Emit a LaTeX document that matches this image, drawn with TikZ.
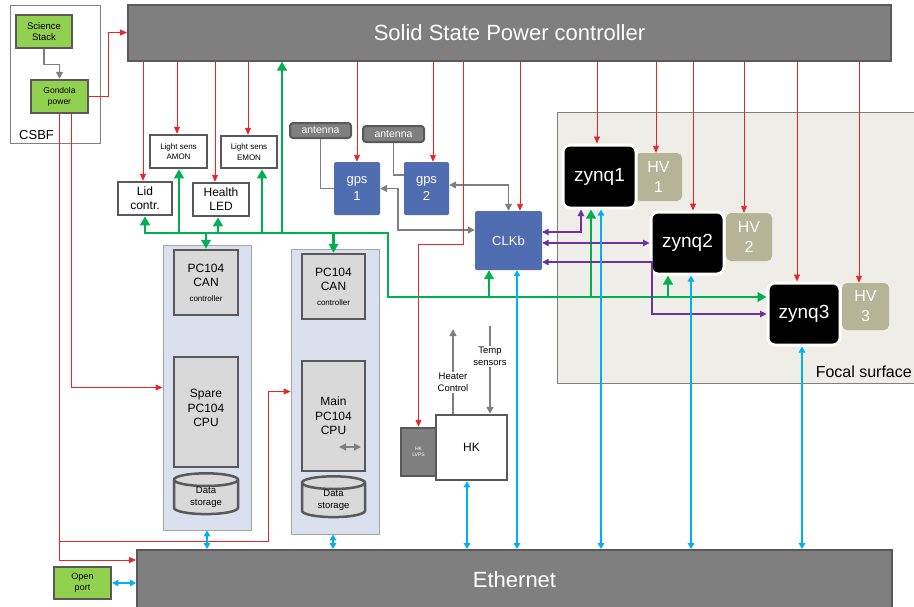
\documentclass[tikz,border=0pt]{standalone}
\usepackage{fontspec}
\setmainfont{Liberation Sans}
\usepackage{tikz}
\usetikzlibrary{shapes.geometric,arrows.meta}

\definecolor{leafgreen}{HTML}{92D050}
\definecolor{edgegray}{HTML}{595959}
\definecolor{bargray}{HTML}{7F7F7F}
\definecolor{arrowgray}{HTML}{7F7F7F}
\definecolor{pcgray}{HTML}{D9D9D9}
\definecolor{modblue}{HTML}{DAE0EE}
\definecolor{gpsblue}{HTML}{4F6DB0}
\definecolor{hvolive}{HTML}{B6B496}
\definecolor{focalbg}{HTML}{EEEDE7}
\definecolor{powerred}{HTML}{E8262A}
\definecolor{busgreen}{HTML}{00B050}
\definecolor{netblue}{HTML}{00B0F0}
\definecolor{clkpurple}{HTML}{7030A0}

\newcommand{\fsz}[2]{\fontsize{#1}{#2}\selectfont}

\tikzset{
  greenbox/.style={draw=edgegray, line width=2.5pt, fill=leafgreen, align=center, inner sep=0pt},
  whitebox/.style={draw=edgegray, line width=2.5pt, fill=white, align=center, inner sep=0pt},
  barbox/.style={draw=edgegray, line width=2pt, fill=bargray, text=white, font=\fsz{22}{26}, inner sep=0pt},
  antbox/.style={draw=edgegray, line width=2pt, fill=bargray, text=white, rounded corners=3pt, font=\fsz{10.5}{12}, inner sep=0pt},
  bluebox/.style={fill=gpsblue, text=white, rounded corners=1.5pt, align=center, font=\fsz{13}{17}, inner sep=0pt},
  zynqbox/.style={draw=white, line width=3pt, fill=black, text=white, rounded corners=7pt, font=\fsz{19}{22}, inner sep=0pt},
  hvbox/.style={fill=hvolive, text=white, rounded corners=5pt, align=center, font=\fsz{16}{20}, inner sep=0pt},
  pcbox/.style={draw=edgegray, line width=2.5pt, fill=pcgray, align=center, font=\fsz{12}{14.5}, inner sep=0pt},
  storecyl/.style={cylinder, shape border rotate=90, aspect=0.4, draw=edgegray, line width=2.5pt, fill=pcgray, align=center, font=\fsz{9.5}{12}, inner sep=0pt},
  modbox/.style={draw=black!35, line width=0.8pt, fill=modblue},
  framebox/.style={draw=black!50, line width=0.8pt},
  focalbox/.style={draw=black!50, line width=1pt, fill=focalbg},
  lvpsbox/.style={draw=edgegray, line width=2.5pt, fill=bargray, text=white, align=center, font=\fsz{5}{6}, inner sep=0pt},
  redarrow/.style={draw=powerred, line width=0.9pt, -{Triangle[length=7pt,width=6pt]}},
  greenline/.style={draw=busgreen, line width=2.6pt},
  greenarrow/.style={greenline, -{Triangle[length=9pt,width=9.5pt]}},
  greenbus/.style={greenline, {Triangle[length=9pt,width=9.5pt]}-{Triangle[length=9pt,width=9.5pt]}},
  bluedbl/.style={draw=netblue, line width=1.5pt, {Triangle[length=6pt,width=6.5pt]}-{Triangle[length=6pt,width=6.5pt]}},
  purpledbl/.style={draw=clkpurple, line width=1.1pt, {Triangle[length=6.5pt,width=6.5pt]}-{Triangle[length=6.5pt,width=6.5pt]}},
  grayline/.style={draw=arrowgray, line width=1.5pt},
  grayarrow/.style={grayline, -{Triangle[length=7pt,width=7pt]}},
  graydbl/.style={grayline, {Triangle[length=7pt,width=7pt]}-{Triangle[length=7pt,width=7pt]}},
  sidetext/.style={fill=white, align=center, font=\fsz{9.5}{12}, inner sep=1pt}
}

\begin{document}
\begin{tikzpicture}[x=1pt,y=-1pt]
\useasboundingbox (0,0) rectangle (914,606);

% frames and backgrounds
\node[framebox, minimum width=90pt, minimum height=138pt] (csbf) at (55,74) {};
\node[anchor=base west, inner sep=0pt, font=\fsz{13}{15}] (csbflabel) at (19,139) {CSBF};
\node[focalbox, minimum width=362pt, minimum height=271pt] (focal) at (738,247.5) {};
\node[anchor=base east, inner sep=0pt, font=\fsz{16}{18}] (focallabel) at (912,377) {Focal surface};
\node[modbox, minimum width=88pt, minimum height=285pt] (spare) at (207,387.5) {};
\node[modbox, minimum width=88pt, minimum height=285pt] (main) at (335,391.5) {};

% balloon side
\node[greenbox, minimum width=56pt, minimum height=33pt, font=\fsz{9.5}{11.5}] (science) at (44,31.5) {Science\\Stack};
\node[greenbox, minimum width=57pt, minimum height=33pt, font=\fsz{8.5}{11}] (gondola) at (59.5,96.5) {Gondola\\power};
\node[greenbox, minimum width=57pt, minimum height=32pt, font=\fsz{9}{11}] (openport) at (82.5,583) {Open\\port};

% power and network bars
\node[barbox, minimum width=763pt, minimum height=56pt] (sspc) at (509.5,32.5) {Solid State Power controller};
\node[barbox, minimum width=755pt, minimum height=60pt] (ethernet) at (514.5,580) {Ethernet};

% small units
\node[whitebox, minimum width=54pt, minimum height=33pt, font=\fsz{12}{14}] (lid) at (145,198.5) {Lid\\contr.};
\node[whitebox, minimum width=57pt, minimum height=33pt, font=\fsz{8}{10.5}] (amon) at (178.5,151.5) {Light sens\\AMON};
\node[whitebox, minimum width=56pt, minimum height=33pt, font=\fsz{12}{14}] (health) at (221,199.5) {Health\\LED};
\node[whitebox, minimum width=56pt, minimum height=32pt, font=\fsz{8}{10.5}] (emon) at (249,152) {Light sens\\EMON};
\node[antbox, minimum width=61pt, minimum height=15pt] (ant1) at (320.5,130.5) {antenna};
\node[antbox, minimum width=61pt, minimum height=16pt] (ant2) at (393.5,134) {antenna};
\node[bluebox, minimum width=46pt, minimum height=53pt] (gps1) at (357,188.5) {gps\\1};
\node[bluebox, minimum width=45pt, minimum height=53pt] (gps2) at (426.5,188.5) {gps\\2};
\node[bluebox, minimum width=67pt, minimum height=59pt] (clkb) at (508.5,240.5) {CLKb};

% focal surface
\node[hvbox, minimum width=47pt, minimum height=48pt] (hv1) at (658.5,177) {HV\\1};
\node[hvbox, minimum width=46pt, minimum height=48pt] (hv2) at (749,237) {HV\\2};
\node[hvbox, minimum width=47pt, minimum height=47pt] (hv3) at (865.5,306.5) {HV\\3};
\node[zynqbox, minimum width=73pt, minimum height=63pt] (zynq1) at (599.5,176.5) {zynq1};
\node[zynqbox, minimum width=73pt, minimum height=62pt] (zynq2) at (687.5,243) {zynq2};
\node[zynqbox, minimum width=72pt, minimum height=62pt] (zynq3) at (804,314) {zynq3};

% PC104 stacks
\node[pcbox, minimum width=64pt, minimum height=65pt] (spareCAN) at (206,282.5) {PC104\\CAN\\{\fsz{8}{9}controller}};
\node[pcbox, minimum width=64pt, minimum height=110pt, text height=30pt] (spareCPU) at (206,412) {Spare\\PC104\\CPU};
\node[storecyl, minimum width=64pt, minimum height=37pt] (spareDB) at (206,497.5) {Data\\storage};
\node[pcbox, minimum width=63pt, minimum height=65pt] (mainCAN) at (333.5,286.5) {PC104\\CAN\\{\fsz{8}{9}controller}};
\node[pcbox, minimum width=63pt, minimum height=110pt] (mainCPU) at (333.5,416) {Main\\PC104\\CPU};
\node[storecyl, minimum width=63pt, minimum height=35pt] (mainDB) at (333.5,500.5) {Data\\storage};
\draw[graydbl] (339,447) -- (361,447);

% housekeeping
\node[lvpsbox, minimum width=35pt, minimum height=48pt] (hklvps) at (418.5,452) {HK\\LVPS};
\node[whitebox, minimum width=71pt, minimum height=65pt, font=\fsz{12}{14}] (hk) at (471.5,447.5) {HK};
\coordinate (heatertop) at (453,329);
\coordinate (temptop) at (490,326);
\draw[grayarrow] (heatertop |- hk.north) -- (heatertop) node[sidetext, pos=0.37] {Heater\\Control};
\draw[grayarrow] (temptop) -- (temptop |- hk.north) node[sidetext, pos=0.35] {Temp\\sensors};

% gray signal lines
\draw[grayarrow] (science.south) -- ++(0,15) -| (gondola.north);
\draw[grayline] (ant1.south) |- (gps1.west);
\draw[grayline] (ant2.south) |- (gps2.west |- 0,175);
\draw[graydbl] (gps1.east) -- (398,0 |- gps1.east) |- (clkb.west |- 0,230);
\draw[graydbl] (gps2.east |- 0,185) -| (clkb.north);

% power lines
\draw[redarrow] (gondola.east) -- ++(19,0) |- (sspc.west);
\draw[redarrow] (71,0 |- gondola.south) |- (spare.west);
\draw[redarrow] (59,0 |- gondola.south) |- (ethernet.west |- 0,560);
\coordinate (rbend) at (268,541);
\draw[redarrow] (59,0 |- rbend) -- (rbend) |- (main.west);
\foreach \n/\xa in {lid/143, amon/177, health/215, emon/248, gps1/357, gps2/433, clkb/520,
                    zynq1/597, hv1/656, zynq2/693, hv2/744, zynq3/797, hv3/859}
  \draw[redarrow] (\xa,0 |- sspc.south) -- (\xa,0 |- \n.north);
\draw[redarrow] (463,0 |- sspc.south) -- (463,244) -| (hklvps.north);

% CAN bus
\coordinate (busB) at (388,233);
\coordinate (busC) at (388,297);
\draw[greenbus] (lid.south) |- (busB) |- (zynq3.west |- busC);
\foreach \n/\xa in {amon/179, health/218, emon/262, sspc/282}
  \draw[greenarrow] (\xa,0 |- busB) -- (\xa,0 |- \n.south);
\draw[greenarrow] (spareCAN.north |- busB) -- (spareCAN.north);
\draw[greenarrow] (mainCAN.north |- busB) -- (mainCAN.north);
\foreach \n/\xa in {clkb/489, zynq1/591, zynq2/668}
  \draw[greenarrow] (\xa,0 |- busC) -- (\xa,0 |- \n.south);

% clock lines
\draw[purpledbl] (clkb.east |- 0,232) -| (581,0 |- zynq1.south);
\draw[purpledbl] (clkb.east |- zynq2.west) -- (zynq2.west);
\draw[purpledbl] (clkb.east |- 0,262) -- (652,262) |- (zynq3.west);

% ethernet links
\foreach \n/\xa in {spare/207, main/333, hk/467, clkb/517, zynq1/601, zynq2/691, zynq3/802}
  \draw[bluedbl] (\xa,0 |- \n.south) -- (\xa,0 |- ethernet.north);
\draw[bluedbl] (openport.east) -- (openport.east -| ethernet.west);
\end{tikzpicture}
\end{document}
